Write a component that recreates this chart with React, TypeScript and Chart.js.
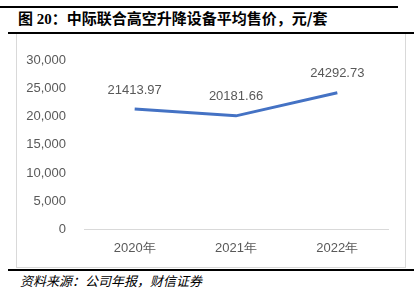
import React, { useEffect, useRef } from "react";
import { Chart, registerables } from "chart.js";

Chart.register(...registerables);

const categories = ["2020年", "2021年", "2022年"];
const prices = [21413.97, 20181.66, 24292.73];
const priceLabels = ["21413.97", "20181.66", "24292.73"];
const yTicks = [0, 5000, 10000, 15000, 20000, 25000, 30000];

const TEXT = "#595959";
const FONT = "'Liberation Sans', Arial, sans-serif";

const labelPlugin = {
  id: "pointLabels",
  afterDatasetsDraw(chart: any) {
    const meta = chart.getDatasetMeta(0);
    const ctx = chart.ctx;
    ctx.save();
    ctx.fillStyle = TEXT;
    ctx.font = `13px ${FONT}`;
    ctx.textAlign = "center";
    ctx.textBaseline = "middle";
    meta.data.forEach((pt: any, i: number) => {
      ctx.fillText(priceLabels[i], pt.x, pt.y - 19);
    });
    ctx.restore();
  },
};

function ChartBox() {
  const ref = useRef<HTMLCanvasElement | null>(null);
  useEffect(() => {
    if (!ref.current) return;
    const chart = new Chart(ref.current, {
      type: "line",
      data: {
        labels: categories,
        datasets: [
          {
            data: prices,
            borderColor: "#4472C4",
            borderWidth: 3,
            pointRadius: 0,
            tension: 0,
            fill: false,
          },
        ],
      },
      options: {
        animation: false,
        responsive: false,
        maintainAspectRatio: false,
        layout: { padding: { top: 17, right: 16, bottom: 0, left: 0 } },
        plugins: { legend: { display: false }, tooltip: { enabled: false } },
        scales: {
          x: {
            offset: true,
            grid: { display: false, drawTicks: false },
            border: { display: true, color: "#D9D9D9", width: 1 },
            ticks: { color: TEXT, font: { size: 13, family: FONT }, padding: 12 },
            afterFit: (s: any) => {
              s.height = 38;
            },
          },
          y: {
            min: 0,
            max: 30000,
            afterBuildTicks: (s: any) => {
              s.ticks = yTicks.map((v) => ({ value: v }));
            },
            grid: { display: false, drawTicks: false },
            border: { display: false },
            ticks: {
              color: TEXT,
              font: { size: 13, family: FONT },
              padding: 18,
              callback: (v: any) => Number(v).toLocaleString("en-US"),
            },
            afterFit: (s: any) => {
              s.width = 67;
            },
          },
        },
      },
      plugins: [labelPlugin],
    });
    return () => chart.destroy();
  }, []);
  return <canvas ref={ref} width={387} height={232} style={{ position: "absolute", left: 17, top: 35, width: 387, height: 232 }} />;
}

export default function App() {
  return (
    <div style={{ position: "fixed", left: 0, top: 0, width: 417, height: 290, background: "#fff", overflow: "hidden" }}>
      <div style={{ position: "absolute", left: 0, top: 6, width: 398, height: 2, background: "#000" }} />
      <div
        style={{
          position: "absolute",
          left: 18,
          top: 8,
          height: 20,
          lineHeight: "20px",
          fontSize: 15,
          fontWeight: "bold",
          fontFamily: "'Liberation Serif', 'Noto Sans CJK SC', serif",
          color: "#000",
          whiteSpace: "nowrap",
        }}
      >
        <span>图 20：</span>
        <span style={{ fontFamily: "'Noto Sans CJK SC', sans-serif" }}>中际联合高空升降设备平均售价，元/套</span>
      </div>
      <div style={{ position: "absolute", left: 8, top: 32, width: 406, height: 2, background: "#000" }} />
      <div style={{ position: "absolute", left: 16, top: 34, width: 388, height: 233, borderLeft: "1px solid #D9D9D9", borderRight: "1px solid #D9D9D9", borderBottom: "1px solid #D9D9D9" }} />
      <ChartBox />
      <div style={{ position: "absolute", left: 8, top: 269, width: 406, height: 2, background: "#000" }} />
      <div
        style={{
          position: "absolute",
          left: 20,
          top: 273,
          fontSize: 13,
          lineHeight: "16px",
          fontStyle: "italic",
          fontFamily: "'Noto Sans CJK SC', serif",
          color: "#000",
          whiteSpace: "nowrap",
        }}
      >
        资料来源：公司年报，财信证券
      </div>
    </div>
  );
}
